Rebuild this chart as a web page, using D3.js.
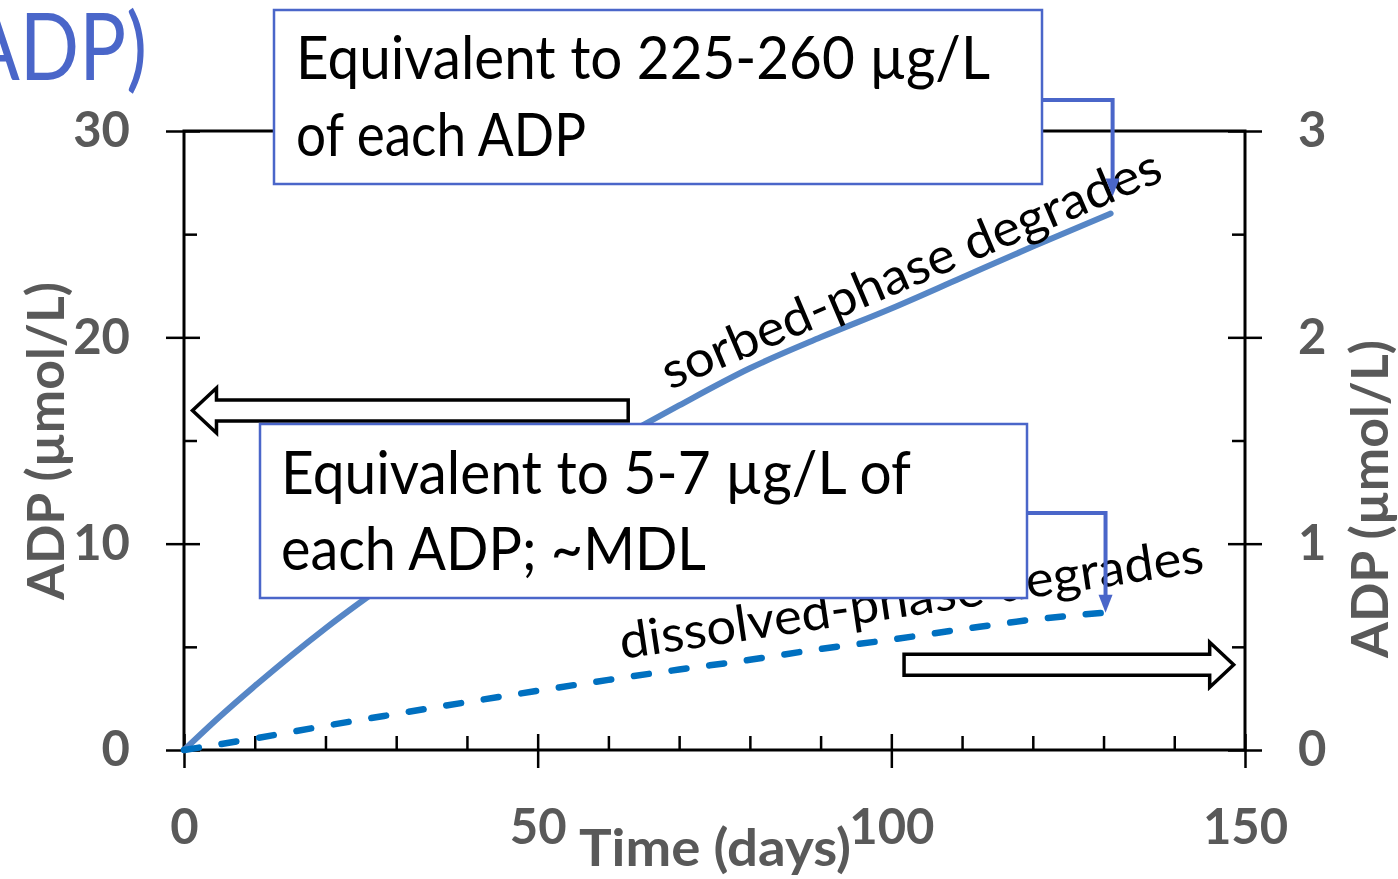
<!DOCTYPE html>
<meta charset="utf-8">
<script src="https://cdnjs.cloudflare.com/ajax/libs/d3/7.8.5/d3.min.js"></script>
<style>
  body { margin: 0; background: #fff; }
  svg { display: block; }
</style>
<div id="chart"></div>
<script>
  // values
  const sorbedDays = [0, 5, 10, 20, 30, 40, 50, 60, 70, 80, 90, 100, 110, 120, 131]
  const sorbedAdp = [0, 1.6, 3.1, 5.9, 8.4, 10.7, 12.8, 14.8, 16.7, 18.5, 20.0, 21.4, 22.9, 24.4, 26.0]
  const dissolvedDays = [0, 10, 20, 30, 40, 50, 60, 70, 80, 90, 100, 110, 120, 130]
  const dissolvedAdp = [0, 0.056, 0.117, 0.175, 0.232, 0.287, 0.340, 0.390, 0.437, 0.490, 0.535, 0.585, 0.632, 0.665]
  const xTicks = [0, 50, 100, 150]
  const xMinor = [10, 20, 30, 40, 60, 70, 80, 90, 110, 120, 130, 140]
  const yLeftTicks = [0, 10, 20, 30]
  const yLeftMinor = [5, 15, 25]
  const yRightTicks = [0, 1, 2, 3]
  const yRightMinor = [0.5, 1.5, 2.5]

  const width = 1398, height = 879
  const plot = { left: 184, right: 1245, top: 131, bottom: 750 }
  const grey = '#595959', blue = '#4a66c9'

  const svg = d3.select('#chart').append('svg')
    .attr('width', width).attr('height', height)

  const x = d3.scaleLinear().domain([0, 150]).range([plot.left, plot.right])
  const yL = d3.scaleLinear().domain([0, 30]).range([plot.bottom, plot.top])
  const yR = d3.scaleLinear().domain([0, 3]).range([plot.bottom, plot.top])
  const fmt = d3.format('d')

  // frame
  svg.append('rect')
    .attr('x', plot.left).attr('y', plot.top)
    .attr('width', plot.right - plot.left).attr('height', plot.bottom - plot.top)
    .attr('fill', 'none').attr('stroke', '#000').attr('stroke-width', 3)

  function styleAxis(g) {
    g.select('.domain').remove()
    g.selectAll('line').attr('stroke', '#000').attr('stroke-width', 2.5)
    g.selectAll('text')
      .attr('fill', grey)
      .style('font-family', 'Lato, sans-serif')
      .style('font-weight', 700)
      .style('font-size', '49px')
  }

  // left axis
  svg.append('g').attr('transform', `translate(${plot.left},0)`)
    .call(d3.axisLeft(yL).tickValues(yLeftTicks).tickFormat(fmt).tickSize(18).tickPadding(36))
    .call(styleAxis)
  svg.append('g').attr('transform', `translate(${plot.left},0)`)
    .call(d3.axisLeft(yL).tickValues(yLeftTicks).tickSize(-16).tickFormat(''))
    .call(styleAxis)
  svg.append('g').attr('transform', `translate(${plot.left},0)`)
    .call(d3.axisLeft(yL).tickValues(yLeftMinor).tickSize(-13).tickFormat(''))
    .call(styleAxis)

  // right axis
  svg.append('g').attr('transform', `translate(${plot.right},0)`)
    .call(d3.axisRight(yR).tickValues(yRightTicks).tickFormat(fmt).tickSize(17).tickPadding(36))
    .call(styleAxis)
  svg.append('g').attr('transform', `translate(${plot.right},0)`)
    .call(d3.axisRight(yR).tickValues(yRightTicks).tickSize(-17).tickFormat(''))
    .call(styleAxis)
  svg.append('g').attr('transform', `translate(${plot.right},0)`)
    .call(d3.axisRight(yR).tickValues(yRightMinor).tickSize(-13).tickFormat(''))
    .call(styleAxis)

  // bottom axis
  svg.append('g').attr('transform', `translate(0,${plot.bottom})`)
    .call(d3.axisBottom(x).tickValues(xTicks).tickFormat(fmt).tickSize(18).tickPadding(41))
    .call(styleAxis)
  svg.append('g').attr('transform', `translate(0,${plot.bottom})`)
    .call(d3.axisBottom(x).tickValues(xTicks).tickSize(-16).tickFormat(''))
    .call(styleAxis)
  svg.append('g').attr('transform', `translate(0,${plot.bottom})`)
    .call(d3.axisBottom(x).tickValues(xMinor).tickSize(-14).tickFormat(''))
    .call(styleAxis)

  // axis titles
  const titleStyle = sel => sel.attr('fill', grey)
    .style('font-family', 'Lato, sans-serif').style('font-weight', 700).style('font-size', '52px')
  svg.append('text').attr('transform', 'translate(64,441) rotate(-90)')
    .attr('text-anchor', 'middle').attr('textLength', 318).attr('lengthAdjust', 'spacingAndGlyphs')
    .text('ADP (µmol/L)').call(titleStyle)
  svg.append('text').attr('transform', 'translate(1388,499) rotate(-90)')
    .attr('text-anchor', 'middle').attr('textLength', 318).attr('lengthAdjust', 'spacingAndGlyphs')
    .text('ADP (µmol/L)').call(titleStyle)
  svg.append('text').attr('x', 715).attr('y', 866)
    .attr('text-anchor', 'middle').attr('textLength', 272).attr('lengthAdjust', 'spacingAndGlyphs')
    .text('Time (days)').call(titleStyle)

  // curves
  const sorbed = sorbedDays.map((d, i) => ({ day: d, v: sorbedAdp[i] }))
  const dissolved = dissolvedDays.map((d, i) => ({ day: d, v: dissolvedAdp[i] }))

  svg.append('path').datum(sorbed)
    .attr('fill', 'none').attr('stroke', '#5686c6').attr('stroke-width', 6)
    .attr('stroke-linecap', 'round')
    .attr('d', d3.line().curve(d3.curveMonotoneX).x(d => x(d.day)).y(d => yL(d.v)))

  svg.append('path').datum(dissolved)
    .attr('fill', 'none').attr('stroke', '#0070c0').attr('stroke-width', 6.5)
    .attr('stroke-linecap', 'round').attr('stroke-dasharray', '15,23')
    .attr('d', d3.line().curve(d3.curveMonotoneX).x(d => x(d.day)).y(d => yR(d.v)))

  // rotated curve labels
  const labelStyle = sel => sel.attr('fill', '#000')
    .style('font-family', 'Lato, sans-serif').style('font-weight', 400).style('font-size', '50px')
  svg.append('text').attr('transform', 'translate(670,390) rotate(-23)')
    .attr('textLength', 538).attr('lengthAdjust', 'spacingAndGlyphs')
    .text('sorbed-phase degrades').call(labelStyle)
  svg.append('text').attr('transform', 'translate(622,659) rotate(-8.5)')
    .attr('textLength', 590).attr('lengthAdjust', 'spacingAndGlyphs')
    .text('dissolved-phase degrades').call(labelStyle)

  // hollow arrows showing which axis each curve uses
  function hollowArrow(x0, x1, yc, dir) {
    const bh = 10.5, hh = 22.5, hl = 24
    const tip = dir < 0 ? x0 : x1
    const base = tip - dir * hl
    const tail = dir < 0 ? x1 : x0
    const pts = [[tail, yc - bh], [base, yc - bh], [base, yc - hh], [tip, yc],
      [base, yc + hh], [base, yc + bh], [tail, yc + bh]]
    svg.append('path').attr('d', d3.line()(pts) + 'Z')
      .attr('fill', '#fff').attr('stroke', '#000').attr('stroke-width', 3.5)
      .attr('stroke-linejoin', 'miter')
  }
  hollowArrow(x(1.2), x(62.8), yL(16.45), -1)
  hollowArrow(x(101.8), x(148.4), yR(0.413), 1)

  // annotation boxes
  const boxText = sel => sel.attr('fill', '#000')
    .style('font-family', 'Lato, sans-serif').style('font-weight', 400).style('font-size', '60px')
  function callout(bx, by, bw, bh, lines, elbowY, tipX, tipY) {
    svg.append('rect').attr('x', bx).attr('y', by).attr('width', bw).attr('height', bh)
      .attr('fill', '#fff').attr('stroke', blue).attr('stroke-width', 2.5)
    lines.forEach(l => {
      svg.append('text').attr('x', l.x).attr('y', l.y)
        .attr('textLength', l.len).attr('lengthAdjust', 'spacingAndGlyphs')
        .text(l.t).call(boxText)
    })
    svg.append('path')
      .attr('d', d3.line()([[bx + bw, elbowY], [tipX, elbowY], [tipX, tipY - 16]]))
      .attr('fill', 'none').attr('stroke', blue).attr('stroke-width', 4)
    svg.append('path')
      .attr('d', d3.line()([[tipX - 7, tipY - 18], [tipX + 7, tipY - 18], [tipX, tipY]]) + 'Z')
      .attr('fill', blue)
  }
  callout(274, 10, 768, 174, [
    { t: 'Equivalent to 225-260 µg/L', x: 296, y: 79, len: 694 },
    { t: 'of each ADP', x: 296, y: 156, len: 290 }
  ], 100, x(sorbedDays[sorbedDays.length - 1]) + 2, yL(sorbedAdp[sorbedAdp.length - 1]) - 17)
  callout(260, 424, 767, 174, [
    { t: 'Equivalent to 5-7 µg/L of', x: 281, y: 494, len: 630 },
    { t: 'each ADP; ~MDL', x: 281, y: 570, len: 425 }
  ], 513, x(dissolvedDays[dissolvedDays.length - 1]) + 2, yR(dissolvedAdp[dissolvedAdp.length - 1]) + 0)

  // slide title fragment (cut off at the left edge, as in the source slide)
  svg.append('text').attr('x', 147).attr('y', 80).attr('text-anchor', 'end')
    .attr('fill', blue)
    .attr('textLength', 180).attr('lengthAdjust', 'spacingAndGlyphs')
    .style('font-family', 'Lato, sans-serif').style('font-weight', 400).style('font-size', '93px')
    .text('ADP)')
</script>
